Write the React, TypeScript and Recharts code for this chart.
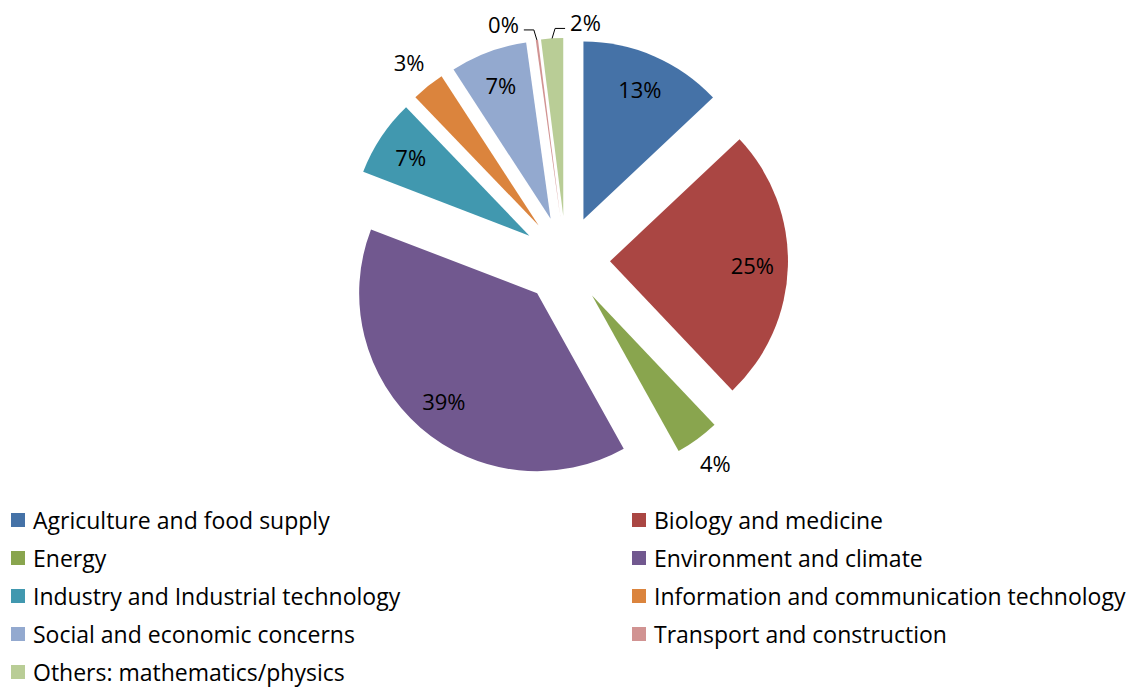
import { PieChart, Pie, Cell, Legend, Sector } from 'recharts';

const categories = [
	'Agriculture and food supply',
	'Biology and medicine',
	'Energy',
	'Environment and climate',
	'Industry and Industrial technology',
	'Information and communication technology',
	'Social and economic concerns',
	'Transport and construction',
	'Others: mathematics/physics',
];

const shares = [13, 25, 4, 39, 7, 3, 7, 0.2, 2];

const colors = ['#4572A7', '#AA4643', '#89A54E', '#71588F', '#4198AF', '#DB843D', '#93A9CF', '#D19392', '#B9CD96'];

const data = categories.map((name, i) => ({ name, value: shares[i] }));

const RAD = Math.PI / 180;
const EXPLODE = 44;
const FONT = '"Open Sans", Lato, sans-serif';

const unit = (angle: number) => [Math.cos(-angle * RAD), Math.sin(-angle * RAD)];

function ExplodedSlice(props: any) {
	const [ux, uy] = unit(props.midAngle);
	return (
		<Sector
			cx={props.cx + ux * EXPLODE}
			cy={props.cy + uy * EXPLODE}
			innerRadius={0}
			outerRadius={props.outerRadius}
			startAngle={props.startAngle}
			endAngle={props.endAngle}
			fill={props.fill}
			stroke="none"
		/>
	);
}

function renderLabel(props: any) {
	const { cx, cy, midAngle, outerRadius, percent, index } = props;
	const [ux, uy] = unit(midAngle);
	const ox = cx + ux * EXPLODE;
	const oy = cy + uy * EXPLODE;
	const text = `${Math.round(percent * 100)}%`;
	const style = { fontFamily: FONT, fontSize: 22, fill: '#000' };

	if (percent >= 0.05) {
		return (
			<text x={ox + ux * outerRadius * 0.8} y={oy + uy * outerRadius * 0.8} textAnchor="middle" dominantBaseline="central" {...style}>
				{text}
			</text>
		);
	}
	if (percent >= 0.025) {
		return (
			<text x={ox + ux * outerRadius * 1.17} y={oy + uy * outerRadius * 1.17} textAnchor="middle" dominantBaseline="central" {...style}>
				{text}
			</text>
		);
	}
	// tiny slices: elbow leader, the earlier one to the left, the last to the right
	const side = index === data.length - 1 ? 1 : -1;
	const px = ox + ux * outerRadius;
	const py = oy + uy * outerRadius;
	const ey = py - 10;
	const hx = px + side * 13;
	return (
		<g>
			<polyline points={`${px},${py} ${px + side * 3},${ey} ${hx},${ey}`} fill="none" stroke="#000" strokeWidth={1} />
			<text x={hx + side * 5} y={ey - 6} textAnchor={side > 0 ? 'start' : 'end'} dominantBaseline="central" {...style}>
				{text}
			</text>
		</g>
	);
}

function LegendContent() {
	return (
		<div
			style={{
				display: 'grid',
				gridTemplateColumns: '621px 509px',
				paddingLeft: 11,
				fontFamily: FONT,
				fontSize: 23,
				color: '#000',
			}}
		>
			{categories.map((c, i) => (
				<div key={c} style={{ display: 'flex', alignItems: 'center', height: 38, whiteSpace: 'nowrap' }}>
					<span style={{ display: 'inline-block', width: 14, height: 14, background: colors[i], marginRight: 8 }} />
					{c}
				</div>
			))}
		</div>
	);
}

export default function App() {
	return (
		<div style={{ position: 'absolute', left: 0, top: 0 }}>
			<PieChart width={1141} height={689} margin={{ top: 0, right: 0, bottom: 0, left: 0 }}>
				<Pie
					data={data}
					dataKey="value"
					nameKey="name"
					cx={566}
					cy={260}
					outerRadius={178}
					startAngle={90}
					endAngle={-270}
					shape={ExplodedSlice}
					label={renderLabel}
					labelLine={false}
					stroke="none"
					isAnimationActive={false}
				>
					{data.map((d, i) => (
						<Cell key={d.name} fill={colors[i]} />
					))}
				</Pie>
				<Legend content={<LegendContent />} wrapperStyle={{ left: 0, top: 501, bottom: 'auto', width: 1141 }} />
			</PieChart>
		</div>
	);
}
